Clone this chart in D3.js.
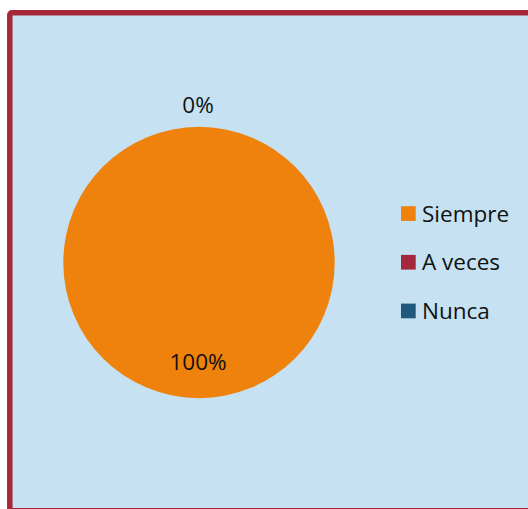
<!DOCTYPE html>
<html lang="es">
<head>
<meta charset="UTF-8">
<title>Pie chart</title>
<script src="https://cdn.jsdelivr.net/npm/d3@7/dist/d3.min.js"></script>
<style>
    body { margin: 0; background: #ffffff; }
    svg { display: block; }
    text { font-family: "Open Sans", sans-serif; font-size: 22.5px; fill: #111; }
</style>
</head>
<body>
<div id="chart"></div>
<script>
    var width = 528,
        height = 509;

    // chart values
    var categories = ["Siempre", "A veces", "Nunca"];
    var values = [100, 0, 0];
    var labels = ["100%", "0%", "0%"];
    var colors = ["#ef820d", "#a3283b", "#1f5a7e"];

    var svg = d3.select("#chart")
        .append("svg")
        .attr("width", width)
        .attr("height", height);

    // frame with light blue fill, runs off the right and bottom edge
    svg.append("rect")
        .attr("x", 9.8)
        .attr("y", 12.8)
        .attr("width", 560)
        .attr("height", 498)
        .attr("rx", 2)
        .attr("fill", "#c5e1f2")
        .attr("stroke", "#a5283a")
        .attr("stroke-width", 5.5);

    var cx = 199, cy = 262.5, r = 135.7;

    var pie = d3.pie().sort(null).value(function(d) { return d; });
    var arcs = pie(values);

    var arc = d3.arc().innerRadius(0).outerRadius(r);

    var g = svg.append("g").attr("transform", "translate(" + cx + "," + cy + ")");

    g.selectAll("path")
        .data(arcs)
        .enter()
        .append("path")
        .attr("d", arc)
        .attr("fill", function(d, i) { return colors[i]; });

    // labels: inside for the big slice, outside for empty slices
    function labelPos(d) {
        var a = (d.startAngle + d.endAngle) / 2;
        var rr = (d.endAngle - d.startAngle) > 0 ? 100 : 157;
        return [Math.sin(a) * rr, -Math.cos(a) * rr];
    }

    // empty slices share the same spot, only draw one label there
    var seen = {};
    var shown = arcs.filter(function(d) {
        var p = labelPos(d);
        var key = Math.round(p[0]) + "," + Math.round(p[1]);
        if (seen[key]) return false;
        seen[key] = true;
        return true;
    });

    g.selectAll(".lbl")
        .data(shown)
        .enter()
        .append("text")
        .attr("class", "lbl")
        .attr("text-anchor", "middle")
        .attr("x", function(d) { return labelPos(d)[0] - 1; })
        .attr("y", function(d) { return labelPos(d)[1] + 7.7; })
        .text(function(d) { return labels[d.index]; });

    // legend
    var legend = svg.append("g").attr("transform", "translate(401,213.5)");
    var row = legend.selectAll(".row")
        .data(categories)
        .enter()
        .append("g")
        .attr("class", "row")
        .attr("transform", function(d, i) { return "translate(0," + (i * 48.7) + ")"; });

    row.append("rect")
        .attr("x", 0)
        .attr("y", -7.3)
        .attr("width", 14.7)
        .attr("height", 14.7)
        .attr("fill", function(d, i) { return colors[i]; });

    row.append("text")
        .attr("x", 21)
        .attr("y", 8)
        .text(function(d) { return d; });
</script>
</body>
</html>
